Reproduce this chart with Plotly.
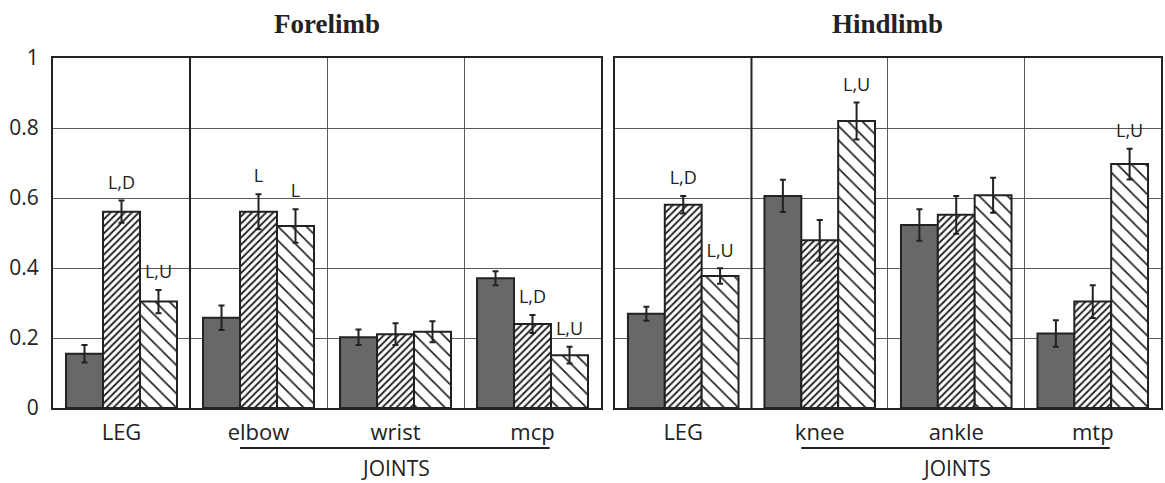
import plotly.graph_objects as go

fore_cats = ["LEG", "elbow", "wrist", "mcp"]
hind_cats = ["LEG", "knee", "ankle", "mtp"]

fore_dark = [0.155, 0.258, 0.202, 0.371]
fore_dark_err = [0.025, 0.035, 0.022, 0.020]
fore_h1 = [0.561, 0.561, 0.211, 0.240]
fore_h1_err = [0.032, 0.050, 0.031, 0.026]
fore_h2 = [0.304, 0.520, 0.218, 0.151]
fore_h2_err = [0.033, 0.048, 0.030, 0.024]

hind_dark = [0.269, 0.606, 0.523, 0.213]
hind_dark_err = [0.020, 0.046, 0.045, 0.038]
hind_h1 = [0.581, 0.479, 0.552, 0.304]
hind_h1_err = [0.025, 0.058, 0.054, 0.047]
hind_h2 = [0.377, 0.820, 0.608, 0.697]
hind_h2_err = [0.022, 0.053, 0.050, 0.044]

fore_dark_lab = ["", "", "", ""]
fore_h1_lab = ["L,D", "L", "", "L,D"]
fore_h2_lab = ["L,U", "L", "", "L,U"]
hind_dark_lab = ["", "", "", ""]
hind_h1_lab = ["L,D", "", "", ""]
hind_h2_lab = ["L,U", "L,U", "", "L,U"]

y_ticks = [0, 0.2, 0.4, 0.6, 0.8, 1]
y_ticktext = ["0", "0.2", "0.4", "0.6", "0.8", "1"]

INK = "#222222"
GRID = "#5a5a5a"
FONT = "Open Sans"

fig = go.Figure()


def add_panel(cats, series, xa, ya):
    for key, vals, errs, labs, style in series:
        if style == "dark":
            marker = dict(color="#686868", line=dict(color=INK, width=2))
        elif style == "h1":
            marker = dict(color="white", line=dict(color=INK, width=2),
                          pattern=dict(shape="/", size=5, solidity=0.38,
                                       fgcolor=INK, bgcolor="white", fillmode="replace"))
        else:
            marker = dict(color="white", line=dict(color=INK, width=2),
                          pattern=dict(shape="\\", size=10, solidity=0.17,
                                       fgcolor=INK, bgcolor="white", fillmode="replace"))
        fig.add_trace(go.Bar(
            x=cats, y=vals, xaxis=xa, yaxis=ya, offsetgroup=key, marker=marker,
            error_y=dict(type="data", array=errs, visible=True, color=INK,
                         thickness=2, width=3),
            showlegend=False, hoverinfo="skip"))
        fig.add_trace(go.Scatter(
            x=cats, y=[v + e for v, e in zip(vals, errs)], xaxis=xa, yaxis=ya,
            offsetgroup=key, orientation="v", mode="markers+text", text=labs,
            marker=dict(size=10, opacity=0),
            textposition="top center",
            textfont=dict(family=FONT, size=18, color=INK),
            showlegend=False, hoverinfo="skip"))


add_panel(fore_cats, [("a", fore_dark, fore_dark_err, fore_dark_lab, "dark"),
                      ("b", fore_h1, fore_h1_err, fore_h1_lab, "h1"),
                      ("c", fore_h2, fore_h2_err, fore_h2_lab, "h2")], "x", "y")
add_panel(hind_cats, [("a", hind_dark, hind_dark_err, hind_dark_lab, "dark"),
                      ("b", hind_h1, hind_h1_err, hind_h1_lab, "h1"),
                      ("c", hind_h2, hind_h2_err, hind_h2_lab, "h2")], "x2", "y2")

xcommon = dict(type="category", tickson="boundaries", showgrid=True,
               gridcolor=GRID, gridwidth=1, ticks="", showline=True,
               linecolor=INK, linewidth=2, mirror=True,
               tickfont=dict(family=FONT, size=22, color=INK),
               ticklabelstandoff=4, fixedrange=True)
ycommon = dict(range=[0, 1], tickvals=y_ticks, showgrid=True, gridcolor=GRID,
               gridwidth=1, ticks="", showline=True, linecolor=INK, linewidth=2,
               mirror=True, zeroline=False, fixedrange=True)

fig.update_layout(
    width=1165, height=483,
    margin=dict(l=53, r=2, t=58, b=75),
    paper_bgcolor="white", plot_bgcolor="white",
    barmode="group", bargap=0.19, bargroupgap=0,
    scattermode="group", scattergap=0.19,
    xaxis=dict(domain=[0, 0.4946], anchor="y", **xcommon),
    xaxis2=dict(domain=[0.5072, 1.0], anchor="y2", **xcommon),
    yaxis=dict(anchor="x", ticktext=y_ticktext, ticklabelstandoff=8,
               tickfont=dict(family=FONT, size=21, color=INK), **ycommon),
    yaxis2=dict(anchor="x2", showticklabels=False, **ycommon),
)

# thick divider between LEG and joints, underline and JOINTS label
for xa, ya, mid in [("x", "y", "wrist"), ("x2", "y2", "ankle")]:
    fig.add_shape(type="line", xref=xa, yref=ya + " domain", x0=0.5, x1=0.5,
                  y0=0, y1=1, line=dict(color=INK, width=2))
    fig.add_shape(type="line", xref=xa, yref=ya + " domain", x0=0.865, x1=3.125,
                  y0=-0.114, y1=-0.114, line=dict(color=INK, width=2))
    fig.add_annotation(text="JOINTS", xref=xa, yref=ya + " domain", x=mid, y=-0.172,
                       showarrow=False, yanchor="middle", xanchor="center",
                       font=dict(family=FONT, size=21, color=INK))

for title, xc in [("Forelimb", 0.2473), ("Hindlimb", 0.7536)]:
    fig.add_annotation(text="<b>" + title + "</b>", xref="paper", yref="paper",
                       x=xc, y=1.097, showarrow=False, yanchor="middle",
                       xanchor="center",
                       font=dict(family="Liberation Serif", size=27, color=INK))

fig.write_html("out.html")
